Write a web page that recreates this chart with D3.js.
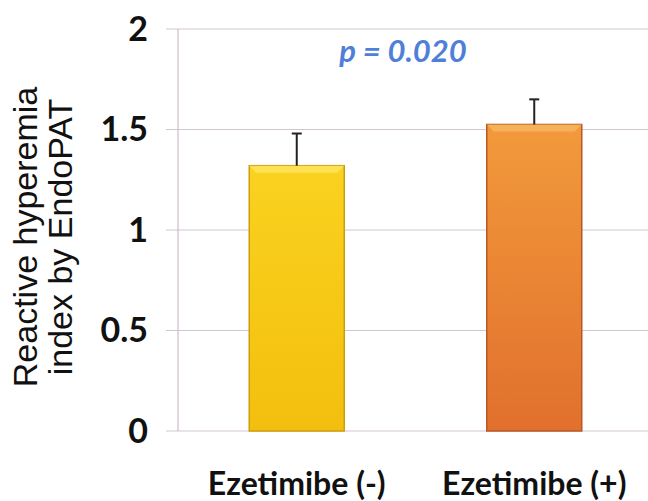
<!DOCTYPE html>
<html>
<head>
<meta charset="utf-8">
<script src="https://cdn.jsdelivr.net/npm/d3@7"></script>
<style>
  body { margin: 0; background: #fff; }
  svg { display: block; }
</style>
</head>
<body>
<div id="chart"></div>
<script>
const categories = ['Ezetimibe (-)', 'Ezetimibe (+)']
const values = [1.32, 1.525]
const errors = [0.16, 0.125]
const yTicks = [0, 0.5, 1, 1.5, 2]
const pText = 'p = 0.020'

const width = 648
const height = 501
const margin = { top: 29, right: -5, bottom: 70, left: 178 }

const svg = d3.select('#chart')
    .append('svg')
    .attr('width', width)
    .attr('height', height)

const defs = svg.append('defs')
const fills = [
    { id: 'g0', top: '#fad21f', bottom: '#f3bf0e', edge: '#cf9c0a', bevel: '#ffe45e' },
    { id: 'g1', top: '#f29a3b', bottom: '#e1702d', edge: '#b55a24', bevel: '#f7b660' }
]
fills.forEach(f => {
    const g = defs.append('linearGradient').attr('id', f.id)
        .attr('x1', 0).attr('y1', 0).attr('x2', 0).attr('y2', 1)
    g.append('stop').attr('offset', '0%').attr('stop-color', f.top)
    g.append('stop').attr('offset', '100%').attr('stop-color', f.bottom)
})

const x = d3.scaleBand()
    .domain(categories)
    .range([margin.left, width - margin.right])
    .paddingInner(0.6)
    .paddingOuter(0.3)

const y = d3.scaleLinear()
    .domain([0, 2])
    .range([height - margin.bottom, margin.top])

// grid lines
svg.append('g')
    .selectAll('line')
    .data(yTicks)
    .enter()
    .append('line')
    .attr('x1', margin.left - 12)
    .attr('x2', width)
    .attr('y1', d => y(d))
    .attr('y2', d => y(d))
    .attr('stroke', '#d3c6d2')
    .attr('stroke-width', 1.2)

// y axis line
svg.append('line')
    .attr('x1', margin.left).attr('x2', margin.left)
    .attr('y1', y(2)).attr('y2', y(0))
    .attr('stroke', '#cbbccb')
    .attr('stroke-width', 1.2)

// tick labels
svg.append('g')
    .selectAll('text')
    .data(yTicks)
    .enter()
    .append('text')
    .attr('x', 148)
    .attr('y', d => y(d))
    .attr('dy', '0.35em')
    .attr('text-anchor', 'end')
    .attr('font-family', 'Lato, "Open Sans", sans-serif')
    .attr('font-weight', 'bold')
    .attr('font-size', 34)
    .attr('fill', '#111')
    .text(d => d)

// bars
const bars = svg.append('g')
    .selectAll('g')
    .data(categories)
    .enter()
    .append('g')

bars.append('rect')
    .attr('x', d => x(d))
    .attr('y', (d, i) => y(values[i]))
    .attr('width', x.bandwidth())
    .attr('height', (d, i) => y(0) - y(values[i]))
    .attr('fill', (d, i) => `url(#${fills[i].id})`)
    .attr('stroke', (d, i) => fills[i].edge)
    .attr('stroke-width', 1.5)

// top bevel
bars.append('polygon')
    .attr('points', (d, i) => {
        const x0 = x(d), x1 = x(d) + x.bandwidth(), t = y(values[i]), b = 7
        return [[x0, t], [x1, t], [x1 - b, t + b], [x0 + b, t + b]].map(p => p.join(',')).join(' ')
    })
    .attr('fill', (d, i) => fills[i].bevel)
    .attr('opacity', 0.85)

// error bars
bars.append('line')
    .attr('x1', d => x(d) + x.bandwidth() / 2)
    .attr('x2', d => x(d) + x.bandwidth() / 2)
    .attr('y1', (d, i) => y(values[i]))
    .attr('y2', (d, i) => y(values[i] + errors[i]))
    .attr('stroke', '#222')
    .attr('stroke-width', 2)

bars.append('line')
    .attr('x1', d => x(d) + x.bandwidth() / 2 - 5)
    .attr('x2', d => x(d) + x.bandwidth() / 2 + 5)
    .attr('y1', (d, i) => y(values[i] + errors[i]))
    .attr('y2', (d, i) => y(values[i] + errors[i]))
    .attr('stroke', '#222')
    .attr('stroke-width', 2)

// category labels
svg.append('g')
    .selectAll('text')
    .data(categories)
    .enter()
    .append('text')
    .attr('x', d => x(d) + x.bandwidth() / 2)
    .attr('y', 495)
    .attr('text-anchor', 'middle')
    .attr('font-family', 'Lato, "Open Sans", sans-serif')
    .attr('font-weight', 'bold')
    .attr('font-size', 32)
    .attr('fill', '#111')
    .text(d => d)

// p value
svg.append('text')
    .attr('x', 403)
    .attr('y', 62)
    .attr('text-anchor', 'middle')
    .attr('font-family', 'Lato, "Open Sans", sans-serif')
    .attr('font-weight', 'bold')
    .attr('font-style', 'italic')
    .attr('font-size', 31)
    .attr('fill', '#4f7fd8')
    .text(pText)

// y axis title
const title = svg.append('text')
    .attr('transform', 'translate(0,237) rotate(-90)')
    .attr('text-anchor', 'middle')
    .attr('font-family', '"Liberation Sans", Arial, sans-serif')
    .attr('font-size', 34)
    .attr('fill', '#111')
title.append('tspan').attr('x', 0).attr('y', 37).text('Reactive hyperemia')
title.append('tspan').attr('x', 0).attr('y', 72).text('index by EndoPAT')
</script>
</body>
</html>
